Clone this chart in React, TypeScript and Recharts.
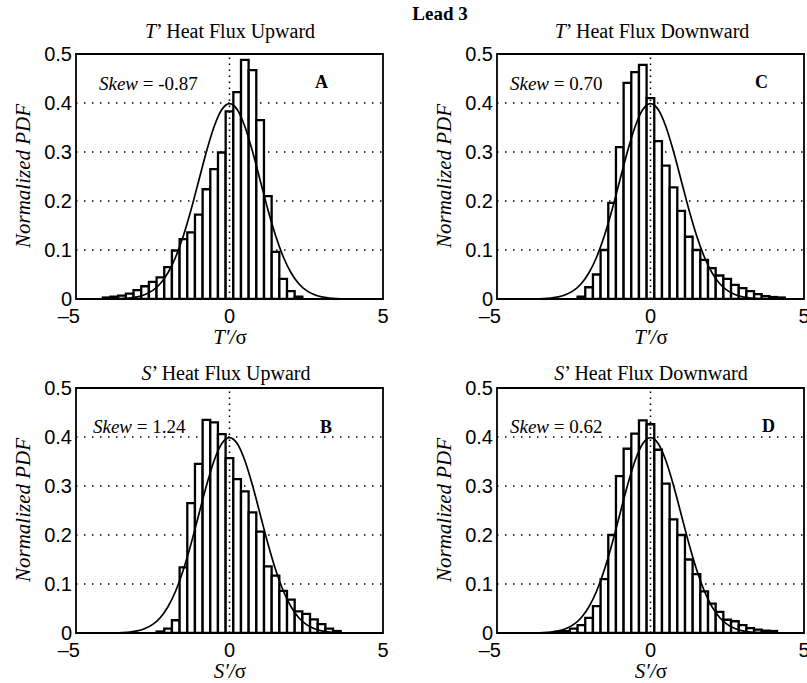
import React from 'react';
import { ComposedChart, Bar, Line, XAxis, YAxis, CartesianGrid, ReferenceLine, ReferenceArea } from 'recharts';

// bin centres (bin width 0.25) along T'/σ or S'/σ
const binCenters = [
  -5, -4.75, -4.5, -4.25, -4, -3.75, -3.5, -3.25, -3, -2.75, -2.5, -2.25, -2, -1.75, -1.5, -1.25, -1, -0.75, -0.5, -0.25,
  0, 0.25, 0.5, 0.75, 1, 1.25, 1.5, 1.75, 2, 2.25, 2.5, 2.75, 3, 3.25, 3.5, 3.75, 4, 4.25, 4.5, 4.75, 5,
];

// reference Gaussian curve, values read at each bin centre
const gaussPdf = [
  0, 0, 0.00002, 0.00005, 0.00013, 0.00035, 0.0009, 0.002, 0.0044, 0.0091, 0.0175, 0.0317, 0.054, 0.0863, 0.1295, 0.1826, 0.242, 0.3011, 0.3521, 0.3867,
  0.3989, 0.3867, 0.3521, 0.3011, 0.242, 0.1826, 0.1295, 0.0863, 0.054, 0.0317, 0.0175, 0.0091, 0.0044, 0.002, 0.0009, 0.00035, 0.00013, 0.00005, 0.00002, 0, 0,
];

// Panel A: T' heat flux upward (first bin centre = histAFrom)
const histAFrom = -4;
const histA = [0.003, 0.005, 0.007, 0.011, 0.018, 0.026, 0.035, 0.044, 0.065, 0.099, 0.122, 0.136, 0.172, 0.224, 0.265, 0.299, 0.383, 0.422, 0.488, 0.467, 0.365, 0.21, 0.096, 0.041, 0.016, 0.005];

// Panel C: T' heat flux downward
const histCFrom = -2.25;
const histC = [0.005, 0.024, 0.05, 0.1, 0.196, 0.31, 0.441, 0.463, 0.478, 0.41, 0.322, 0.272, 0.228, 0.18, 0.127, 0.1, 0.08, 0.063, 0.048, 0.041, 0.029, 0.022, 0.016, 0.01, 0.006, 0.004, 0.003];

// Panel B: S' heat flux upward
const histBFrom = -2.25;
const histB = [0.003, 0.009, 0.026, 0.134, 0.265, 0.345, 0.435, 0.43, 0.406, 0.357, 0.314, 0.289, 0.246, 0.207, 0.136, 0.117, 0.086, 0.068, 0.044, 0.039, 0.028, 0.018, 0.009, 0.004];

// Panel D: S' heat flux downward
const histDFrom = -3;
const histD = [0.002, 0.004, 0.009, 0.016, 0.031, 0.055, 0.11, 0.2, 0.32, 0.376, 0.407, 0.434, 0.426, 0.374, 0.305, 0.232, 0.2, 0.15, 0.12, 0.085, 0.06, 0.043, 0.027, 0.024, 0.016, 0.01, 0.007, 0.005, 0.004];

const xTicks = [-5, 0, 5];
const yTicks = [0, 0.1, 0.2, 0.3, 0.4, 0.5];

const skewLabels = { A: '-0.87', B: '1.24', C: '0.70', D: '0.62' };

function buildRows(from: number, heights: number[]) {
  return binCenters.map((x, i) => {
    const j = Math.round((x - from) / 0.25);
    const h = j >= 0 && j < heights.length ? heights[j] : null;
    return { x, h, pdf: gaussPdf[i] };
  });
}

const SANS = '"Liberation Sans", Arial, Helvetica, sans-serif';
const SERIF = '"Liberation Serif", "Times New Roman", serif';

function XTick(props: any) {
  const { x, y, payload } = props;
  const v = payload.value;
  const neg = v < 0;
  return (
    <text
      x={neg ? x + 4 : x}
      y={y + 16}
      textAnchor={neg ? 'end' : 'middle'}
      fontFamily={SANS}
      fontSize={20}
      fill="#000"
    >
      {neg ? '\u2013' + Math.abs(v) : String(v)}
    </text>
  );
}

function YTick(props: any) {
  const { x, y, payload } = props;
  const v = payload.value;
  return (
    <text x={x + 4} y={y + 7} textAnchor="end" fontFamily={SANS} fontSize={20} fill="#000">
      {v === 0 ? '0' : v.toFixed(1)}
    </text>
  );
}

function Panel({ rows }: { rows: any[] }) {
  return (
    <ComposedChart width={400} height={321} data={rows} margin={{ top: 34, right: 17, left: 36, bottom: 12 }}>
      <CartesianGrid stroke="#000" strokeWidth={1.4} strokeDasharray="1.5 6.5" vertical={false} />
      <XAxis
        dataKey="x"
        type="number"
        domain={[-5, 5]}
        ticks={xTicks}
        interval={0}
        tick={<XTick />}
        tickLine={false}
        axisLine={false}
        height={30}
        allowDataOverflow
      />
      <YAxis
        type="number"
        domain={[0, 0.5]}
        ticks={yTicks}
        interval={0}
        tick={<YTick />}
        tickLine={false}
        axisLine={false}
        width={40}
        allowDataOverflow
      />
      <Bar dataKey="h" fill="#fff" stroke="#000" strokeWidth={2.3} barSize={7.6} isAnimationActive={false} />
      <Line dataKey="pdf" type="monotone" stroke="#000" strokeWidth={1.7} dot={false} isAnimationActive={false} />
      <ReferenceLine x={0} stroke="#000" strokeWidth={1.6} strokeDasharray="1.5 4.5" />
      <ReferenceArea x1={-5} x2={5} y1={0} y2={0.5} fill="none" fillOpacity={0} stroke="#000" strokeWidth={1.8} />
    </ComposedChart>
  );
}

function YLabel({ x, cy }: { x: number; cy: number }) {
  return (
    <text
      transform={`translate(${x},${cy}) rotate(-90)`}
      textAnchor="middle"
      fontFamily={SERIF}
      fontStyle="italic"
      fontSize={21}
      fill="#000"
    >
      Normalized PDF
    </text>
  );
}

function SkewText({ x, y, value }: { x: number; y: number; value: string }) {
  return (
    <text x={x} y={y} fontFamily={SERIF} fontSize={19} fill="#000">
      <tspan fontStyle="italic">Skew</tspan> = {value}
    </text>
  );
}

export default function App() {
  const rowsA = buildRows(histAFrom, histA);
  const rowsB = buildRows(histBFrom, histB);
  const rowsC = buildRows(histCFrom, histC);
  const rowsD = buildRows(histDFrom, histD);
  return (
    <div style={{ position: 'absolute', left: 0, top: 0, width: 807, height: 683, overflow: 'hidden', background: '#fff' }}>
      <div style={{ position: 'absolute', left: 0, top: 20 }}>
        <Panel rows={rowsA} />
      </div>
      <div style={{ position: 'absolute', left: 421, top: 20 }}>
        <Panel rows={rowsC} />
      </div>
      <div style={{ position: 'absolute', left: 0, top: 354 }}>
        <Panel rows={rowsB} />
      </div>
      <div style={{ position: 'absolute', left: 421, top: 354 }}>
        <Panel rows={rowsD} />
      </div>
      <svg width={807} height={683} style={{ position: 'absolute', left: 0, top: 0, pointerEvents: 'none' }}>
        <text x={440} y={20} textAnchor="middle" fontFamily={SERIF} fontWeight="bold" fontSize={19} fill="#000">
          Lead 3
        </text>
        {/* titles */}
        <text x={230} y={38} textAnchor="middle" fontFamily={SERIF} fontSize={20} fill="#000">
          <tspan fontStyle="italic">T</tspan>’ Heat Flux Upward
        </text>
        <text x={652} y={38} textAnchor="middle" fontFamily={SERIF} fontSize={20} fill="#000">
          <tspan fontStyle="italic">T</tspan>’ Heat Flux Downward
        </text>
        <text x={226} y={380} textAnchor="middle" fontFamily={SERIF} fontSize={20} fill="#000">
          <tspan fontStyle="italic">S</tspan>’ Heat Flux Upward
        </text>
        <text x={651} y={380} textAnchor="middle" fontFamily={SERIF} fontSize={20} fill="#000">
          <tspan fontStyle="italic">S</tspan>’ Heat Flux Downward
        </text>
        {/* y labels */}
        <YLabel x={30} cy={176} />
        <YLabel x={451} cy={176} />
        <YLabel x={30} cy={510} />
        <YLabel x={451} cy={510} />
        {/* x labels */}
        <text x={230} y={344} textAnchor="middle" fontFamily={SERIF} fontSize={21} fill="#000">
          <tspan fontStyle="italic">T′/</tspan>σ
        </text>
        <text x={651} y={344} textAnchor="middle" fontFamily={SERIF} fontSize={21} fill="#000">
          <tspan fontStyle="italic">T′/</tspan>σ
        </text>
        <text x={230} y={678} textAnchor="middle" fontFamily={SERIF} fontSize={21} fill="#000">
          <tspan fontStyle="italic">S′/</tspan>σ
        </text>
        <text x={651} y={678} textAnchor="middle" fontFamily={SERIF} fontSize={21} fill="#000">
          <tspan fontStyle="italic">S′/</tspan>σ
        </text>
        {/* skew annotations */}
        <SkewText x={99} y={90} value={skewLabels.A} />
        <SkewText x={510} y={90} value={skewLabels.C} />
        <SkewText x={93} y={433} value={skewLabels.B} />
        <SkewText x={510} y={433} value={skewLabels.D} />
        {/* panel letters */}
        <text x={315} y={88} fontFamily={SERIF} fontWeight="bold" fontSize={18} fill="#000">A</text>
        <text x={755} y={88} fontFamily={SERIF} fontWeight="bold" fontSize={18} fill="#000">C</text>
        <text x={320} y={433} fontFamily={SERIF} fontWeight="bold" fontSize={18} fill="#000">B</text>
        <text x={762} y={432} fontFamily={SERIF} fontWeight="bold" fontSize={18} fill="#000">D</text>
      </svg>
    </div>
  );
}
